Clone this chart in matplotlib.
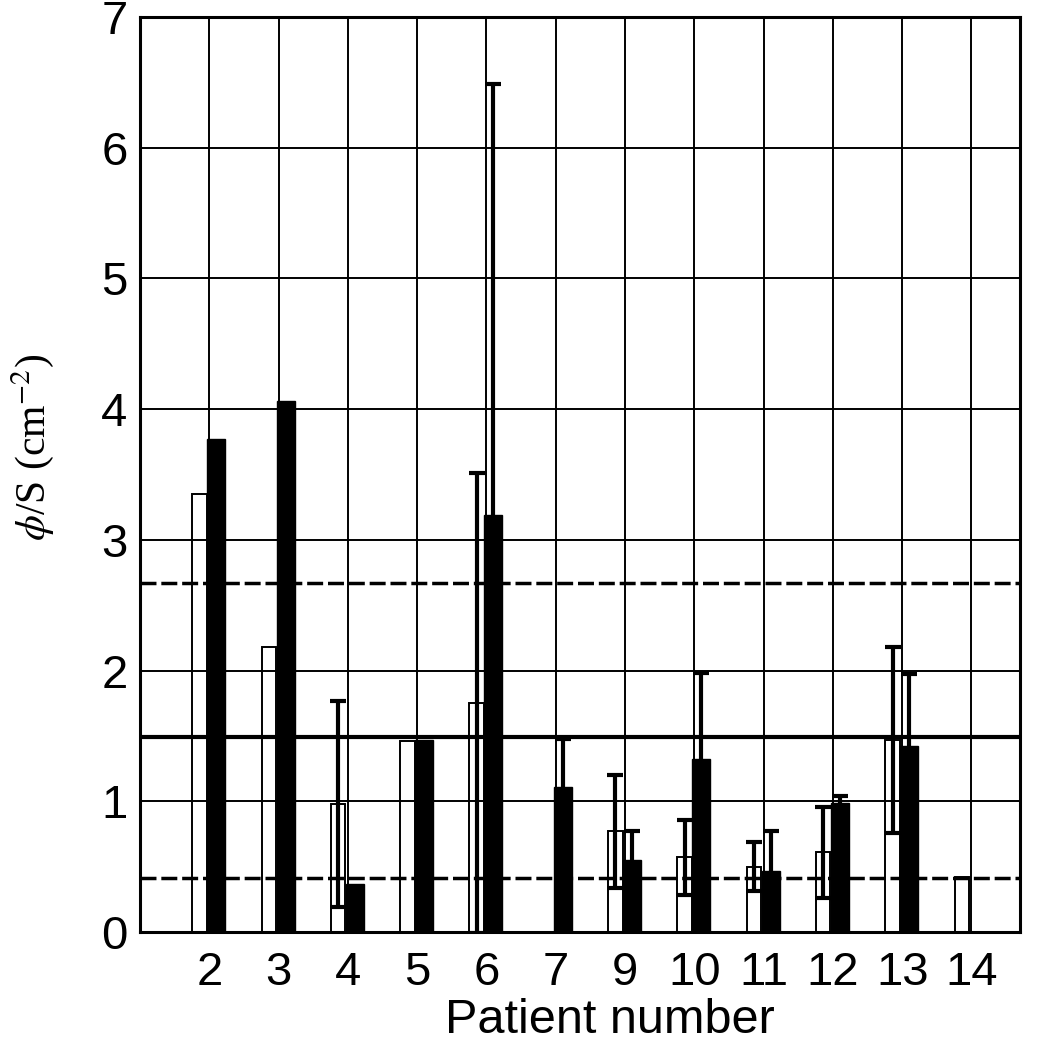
import matplotlib
matplotlib.use('Agg')
import matplotlib.pyplot as plt
import numpy as np

# ---- data ----
patients = ['2', '3', '4', '5', '6', '7', '9', '10', '11', '12', '13', '14']
white_vals = [3.35, 2.18, 0.98, 1.46, 1.75, 0.0, 0.77, 0.57, 0.50, 0.61, 1.47, 0.42]
white_err = [0.0, 0.0, 0.79, 0.0, 1.76, 0.0, 0.43, 0.29, 0.19, 0.35, 0.71, 0.0]
black_vals = [3.77, 4.06, 0.37, 1.47, 3.19, 1.11, 0.55, 1.32, 0.47, 0.99, 1.42, 0.0]
black_err = [0.0, 0.0, 0.0, 0.0, 3.30, 0.37, 0.22, 0.66, 0.30, 0.05, 0.55, 0.0]
ref_mean = 1.49
ref_low = 0.41
ref_high = 2.67

plt.rcParams['font.family'] = ['Liberation Sans', 'DejaVu Sans']
plt.rcParams['mathtext.fontset'] = 'stix'

fig = plt.figure(figsize=(10.45, 10.5), dpi=100)
ax = fig.add_axes([140 / 1045, 1 - 932 / 1050, 880 / 1045, 915 / 1050])

x = np.arange(len(patients))
wx = x - 0.14
bx = x + 0.10

ax.bar(wx, white_vals, width=0.21, facecolor='none', edgecolor='black',
       linewidth=1.4, zorder=3)
ax.bar(bx, black_vals, width=0.26, color='black', edgecolor='black',
       linewidth=1.0, zorder=3)

w_err = np.array(white_err)
b_err = np.array(black_err)
wm = w_err > 0
bm = b_err > 0
ax.errorbar(wx[wm], np.array(white_vals)[wm], yerr=w_err[wm], fmt='none',
            ecolor='black', elinewidth=3, capsize=6, capthick=3, zorder=4)
ax.errorbar(bx[bm], np.array(black_vals)[bm], yerr=b_err[bm], fmt='none',
            ecolor='black', elinewidth=3, capsize=6, capthick=3, zorder=4)

ax.axhline(ref_mean, color='black', lw=3, zorder=2)
ax.axhline(ref_low, color='black', lw=2.5, ls=(0, (4.6, 1.4)), zorder=2)
ax.axhline(ref_high, color='black', lw=2.5, ls=(0, (4.6, 1.4)), zorder=2)

ax.set_xlim(-1.0, 11.7)
ax.set_ylim(0, 7)
ax.set_xticks(x)
ax.set_xticklabels(patients)
ax.set_yticks(range(8))
ax.grid(True, color='black', lw=1.4, zorder=1)
ax.set_axisbelow(True)
ax.tick_params(axis='both', length=0, labelsize=34)
ax.tick_params(axis='x', pad=14)
ax.tick_params(axis='y', pad=9)
for s in ax.spines.values():
    s.set_linewidth(2.2)

ax.set_xlabel('Patient number', fontsize=35)
ax.xaxis.set_label_coords(0.534, -0.072)
ax.set_ylabel(r'$\phi$/S (cm$^{-2}$)', fontsize=30, family='Liberation Serif')
ax.yaxis.set_label_coords(-0.096, 0.529)

fig.savefig('out.png', dpi=100)
